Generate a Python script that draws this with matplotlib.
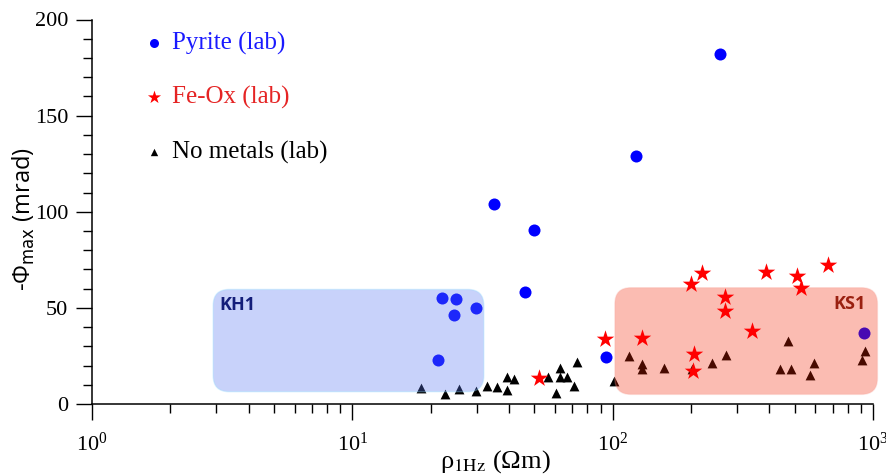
import numpy as np
import matplotlib
matplotlib.use("Agg")
import matplotlib.pyplot as plt
from matplotlib.patches import FancyBboxPatch
from matplotlib.ticker import LogLocator, MultipleLocator

# ---- data ----
pyrite_rho = [259, 123, 34.9, 49.9, 45.9, 22.05, 25.1, 24.5, 29.8, 21.4, 94.1, 924]
pyrite_phi = [182.3, 129.1, 104.1, 90.5, 58.2, 55.1, 54.4, 46.4, 50.1, 22.7, 24.6, 36.9]

feox_rho = [52.3, 93.8, 129.3, 199.5, 219.9, 270, 270, 206, 204, 344, 387, 511, 531, 670]
feox_phi = [13.4, 33.6, 34.3, 62.4, 67.9, 55.6, 48.3, 26.2, 17.3, 37.8, 68.6, 66.4, 60.5, 72.1]

nometal_rho = [18.3, 22.7, 25.8, 29.9, 33.0, 35.8, 39.2, 41.6, 39.2, 56.5, 60.4, 62.8,
               62.8, 66.6, 71.3, 73.2, 101, 115.6, 129.3, 130, 158, 202.4, 240, 272.7,
               438.5, 470.5, 484.5, 573, 594, 905, 935]
nometal_phi = [8.5, 5.0, 7.8, 6.8, 9.2, 9.0, 14.0, 13.0, 7.4, 14.2, 5.5, 18.5,
               13.9, 13.9, 9.2, 22.0, 12.0, 25.0, 21.0, 18.0, 18.7, 18.0, 21.1, 25.6,
               18.4, 32.9, 18.4, 14.9, 21.5, 22.7, 27.6]

labels = ["Pyrite (lab)", "Fe-Ox (lab)", "No metals (lab)"]

# zones: name, x-range, y-range
zone_names = ["KH1", "KS1"]
zone_x = [(2.92, 32.0), (102.0, 1040.0)]
zone_y = [(6.4, 59.6), (5.0, 60.5)]

# ---- style ----
plt.rcParams['font.family'] = ['Liberation Serif', 'DejaVu Serif']
plt.rcParams['mathtext.fontset'] = 'stix'

fig = plt.figure(figsize=(8.87, 4.75), dpi=100)
ax = fig.add_axes([92/887, 1-404/475, 781/887, 384.5/475])

ax.set_xscale('log')
ax.set_xlim(1, 1000)
ax.set_ylim(0, 200)

ax.scatter(pyrite_rho, pyrite_phi, s=75, marker='o', color='#0000ff', zorder=2,
           label=labels[0], linewidths=0)
ax.scatter(feox_rho, feox_phi, s=175, marker='*', color='#ff0000', zorder=4,
           label=labels[1], linewidths=0)
ax.scatter(nometal_rho, nometal_phi, s=50, marker='^', color='black', zorder=2,
           label=labels[2], linewidths=0)

# zones
fig.canvas.draw()
to_axes = ax.transData + ax.transAxes.inverted()
ax_w = 781.0
ax_h = 384.5
face = [(90/255, 120/255, 240/255), (242/255, 35/255, 0/255)]
edge = [(150/255, 220/255, 255/255), (250/255, 170/255, 160/255)]
alphas = [0.33, 0.30]
txtcol = ['#141e7a', '#9a2010']
for i, name in enumerate(zone_names):
    (x0, y0) = to_axes.transform((zone_x[i][0], zone_y[i][0]))
    (x1, y1) = to_axes.transform((zone_x[i][1], zone_y[i][1]))
    r = 16 / ax_w
    p = FancyBboxPatch((x0, y0), x1 - x0, y1 - y0,
                       boxstyle=f"round,pad=0,rounding_size={r}",
                       mutation_aspect=ax_w / ax_h,
                       transform=ax.transAxes, facecolor=face[i], alpha=alphas[i],
                       edgecolor=edge[i], linewidth=1.0, zorder=3, clip_on=False)
    ax.add_patch(p)
    if i == 0:
        ax.text(x0 + 6/ax_w, y1 - 7/ax_h, name, transform=ax.transAxes, ha='left', va='top',
                fontsize=13, fontweight='bold', color=txtcol[i], family='Open Sans', zorder=5)
    else:
        ax.text(x1 - 12/ax_w, y1 - 7/ax_h, name, transform=ax.transAxes, ha='right', va='top',
                fontsize=13, fontweight='bold', color=txtcol[i], family='Open Sans', zorder=5)

# spines
for s in ['top', 'right']:
    ax.spines[s].set_visible(False)
for s in ['left', 'bottom']:
    ax.spines[s].set_linewidth(1.1)

ax.yaxis.set_major_locator(MultipleLocator(50))
ax.yaxis.set_minor_locator(MultipleLocator(10))
ax.xaxis.set_major_locator(LogLocator(base=10, numticks=10))
ax.xaxis.set_minor_locator(LogLocator(base=10, subs=np.arange(2, 10), numticks=10))

ax.tick_params(axis='both', which='major', direction='out', length=11.5, width=1.0,
               labelsize=16, pad=5.5)
ax.tick_params(axis='both', which='minor', direction='out', length=6.3, width=1.0)
ax.tick_params(axis='x', which='major', pad=9)

ax.set_xlabel(r"ρ$_{\mathrm{1Hz}}$ (Ωm)", fontsize=19)
ax.xaxis.set_label_coords(0.516, -0.115)
ax.set_ylabel(r"-Φ$_{\mathrm{max}}$ (mrad)", fontsize=17, family='Open Sans',
              math_fontfamily='dejavusans')
ax.yaxis.set_label_coords(-0.071, 0.48)

leg = ax.legend(loc='upper left', bbox_to_anchor=(0.063, 0.968), frameon=False,
                fontsize=18, handlelength=1.0, handletextpad=0.25, labelspacing=1.25,
                borderpad=0, borderaxespad=0, markerscale=0.75)
for t, c in zip(leg.get_texts(), ['#1a1aff', '#e52424', 'black']):
    t.set_color(c)

fig.savefig('out.png', dpi=100)
